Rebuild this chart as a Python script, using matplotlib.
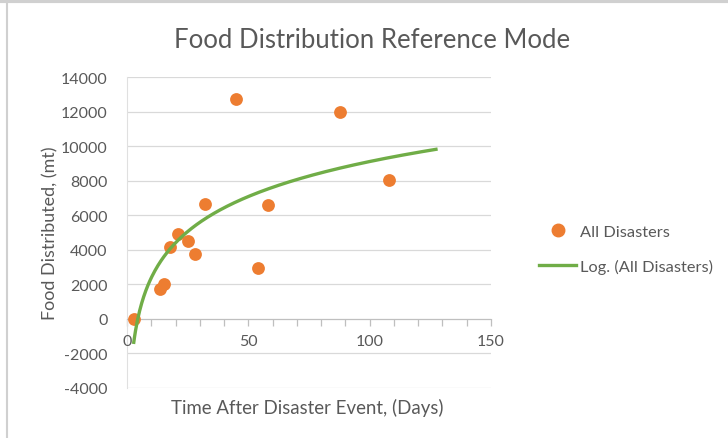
#!/usr/bin/env python
#-*- encoding: utf-8 -*-

'''food distribution reference mode, scatter with log trend line
'''

import numpy as np
import matplotlib
matplotlib.use('Agg')
import matplotlib.pyplot as plt
from matplotlib.lines import Line2D

plt.rcParams['font.family'] = ['Lato', 'DejaVu Sans']
plt.rcParams['axes.unicode_minus'] = False

# days after disaster event, food distributed (mt)
days = [2.7, 13.7, 15.4, 17.8, 21.0, 25.1, 28.0, 32.0, 45.0, 53.8, 57.9, 87.9, 108.0]
food = [0, 1750, 2000, 4160, 4900, 4500, 3740, 6640, 12740, 2950, 6580, 11970, 8040]
forecast_forward = 20

x_ticks = [0, 50, 100, 150]
y_ticks = list(range(-4000, 14001, 2000))

TXT = '#595959'
ORANGE = '#ED7D31'
GREEN = '#70AD47'


def log_trend(x, y, forward):
    a, b = np.polyfit(np.log(x), y, 1)
    xs = np.linspace(min(x), max(x) + forward, 300)
    return xs, a * np.log(xs) + b


def plot(pic_name):
    fig = plt.figure(figsize=(7.28, 4.39), dpi=100)
    ax = fig.add_axes([127 / 728, 1 - 389 / 439, 364 / 728, 311 / 439])

    for yv in y_ticks:
        ax.axhline(yv, color='#d9d9d9', lw=0.9, zorder=0)

    ax.scatter(days, food, s=85, color=ORANGE, zorder=3, linewidths=0)
    xs, ys = log_trend(days, food, forecast_forward)
    ax.plot(xs, ys, color=GREEN, lw=2.4, zorder=4, solid_capstyle='butt')

    ax.set_xlim(0, 150)
    ax.set_ylim(-4000, 14000)

    # x axis crosses at zero, vertical axis stays at the left
    for side in ['top', 'right']:
        ax.spines[side].set_visible(False)
    ax.spines['bottom'].set_position(('data', 0))
    ax.spines['bottom'].set_color('#bfbfbf')
    ax.spines['left'].set_color('#e0e0e0')
    ax.set_xticks(range(0, 151, 10), minor=True)
    ax.set_xticks(x_ticks)
    ax.set_xticklabels([])
    ax.tick_params(axis='x', which='both', direction='out', length=5,
                   color='#bfbfbf', width=0.9)
    for xv in x_ticks:
        ax.text(xv, -1300, str(xv), ha='center', va='center',
                fontsize=11.5, color=TXT)
    ax.set_yticks(y_ticks)
    ax.tick_params(axis='y', length=0, pad=14, labelsize=11.5, labelcolor=TXT)

    fig.text(372 / 728, 1 - 40 / 439, 'Food Distribution Reference Mode',
             ha='center', va='center', fontsize=18.5, color=TXT)
    fig.text(307 / 728, 1 - 408 / 439, 'Time After Disaster Event, (Days)',
             ha='center', va='center', fontsize=13.4, color=TXT)
    fig.text(50 / 728, 1 - 233 / 439, 'Food Distributed, (mt)',
             ha='center', va='center', fontsize=12.9, color=TXT, rotation=90)

    handles = [
        Line2D([], [], ls='none', marker='o', ms=9, color=ORANGE),
        Line2D([], [], color=GREEN, lw=2.4),
    ]
    fig.legend(handles, ['All Disasters', 'Log. (All Disasters)'],
               loc='center left', bbox_to_anchor=(524 / 728, 1 - 250 / 439),
               frameon=False, fontsize=11.8, labelcolor=TXT,
               handlelength=2.3, handletextpad=0.2, labelspacing=1.2)

    # frame edges of the screenshot
    fig.add_artist(Line2D([7 / 728, 7 / 728], [0, 1 - 5 / 439],
                          transform=fig.transFigure, color='#d0d0d0', lw=1.5))
    fig.add_artist(Line2D([0, 1], [1 - 2 / 439, 1 - 2 / 439],
                          transform=fig.transFigure, color='#d0d0d0', lw=3))

    fig.savefig(pic_name, dpi=100)


def main():
    plot('out.png')


if __name__ == '__main__':
    main()
